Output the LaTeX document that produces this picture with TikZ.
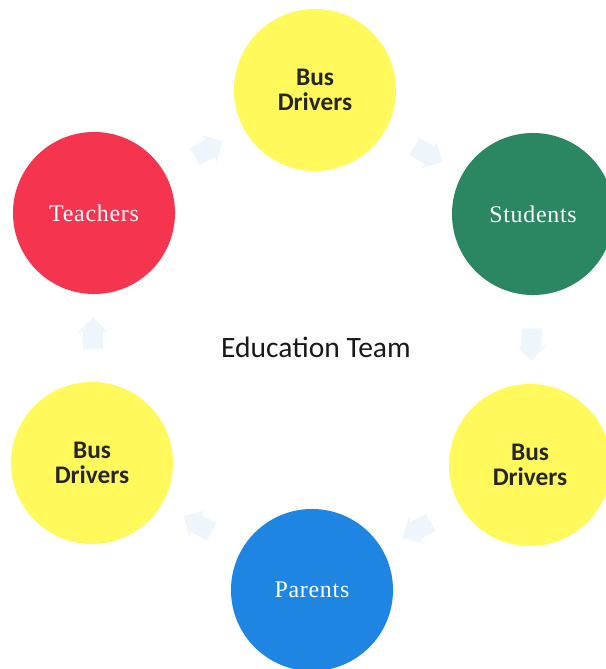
\documentclass[tikz,border=0pt]{standalone}
\usepackage{fontspec}
\setmainfont{Carlito}
\newfontfamily\namefont[LetterSpace=3]{Liberation Serif}
\usepackage{tikz}
\usetikzlibrary{calc,positioning,shapes.arrows}
\definecolor{busyellow}{RGB}{255,249,92}
\definecolor{teachred}{RGB}{245,52,80}
\definecolor{studgreen}{RGB}{42,135,98}
\definecolor{parblue}{RGB}{30,134,226}
\definecolor{arrowblue}{RGB}{238,246,252}
\tikzset{
	member/.style={
		circle,
		minimum size=4.05cm,
		inner sep=0pt,
		text width=3.5cm,
		align=center
	},
	bus/.style={member, fill=busyellow, text=black!85, font={\bfseries\fontsize{18pt}{18pt}\selectfont}},
	named/.style={member, text=white, font={\namefont\fontsize{17pt}{20pt}\selectfont}},
	flow/.style={
		single arrow,
		fill=arrowblue,
		minimum height=0.8cm,
		minimum width=0.8cm,
		single arrow head extend=0.1cm,
		single arrow head indent=0.05cm,
		inner sep=0.16cm,
		sloped, allow upside down
	},
}
\begin{document}
\begin{tikzpicture}[x=0.025cm,y=-0.025cm]
	\useasboundingbox (0,0) rectangle (605,669);
	\node[bus] (bustop) at (315,90) {Bus\\Drivers};
	\node[named, fill=studgreen] (students) at (533,214) {Students};
	\node[bus] (busright) at (530,465) {Bus\\Drivers};
	\node[named, fill=parblue] (parents) at (312,590) {Parents};
	\node[bus] (busleft) at (92,463) {Bus\\Drivers};
	\node[named, fill=teachred] (teachers) at (94,213) {Teachers};
	\node[text=black!90, font={\fontsize{21pt}{25pt}\selectfont}] (team) at (316,347) {Education Team};
	\foreach \from/\to in {bustop/students,students/busright,busright/parents,parents/busleft,busleft/teachers,teachers/bustop}
		\path (\from) -- node[flow] {} (\to);
\end{tikzpicture}
\end{document}
